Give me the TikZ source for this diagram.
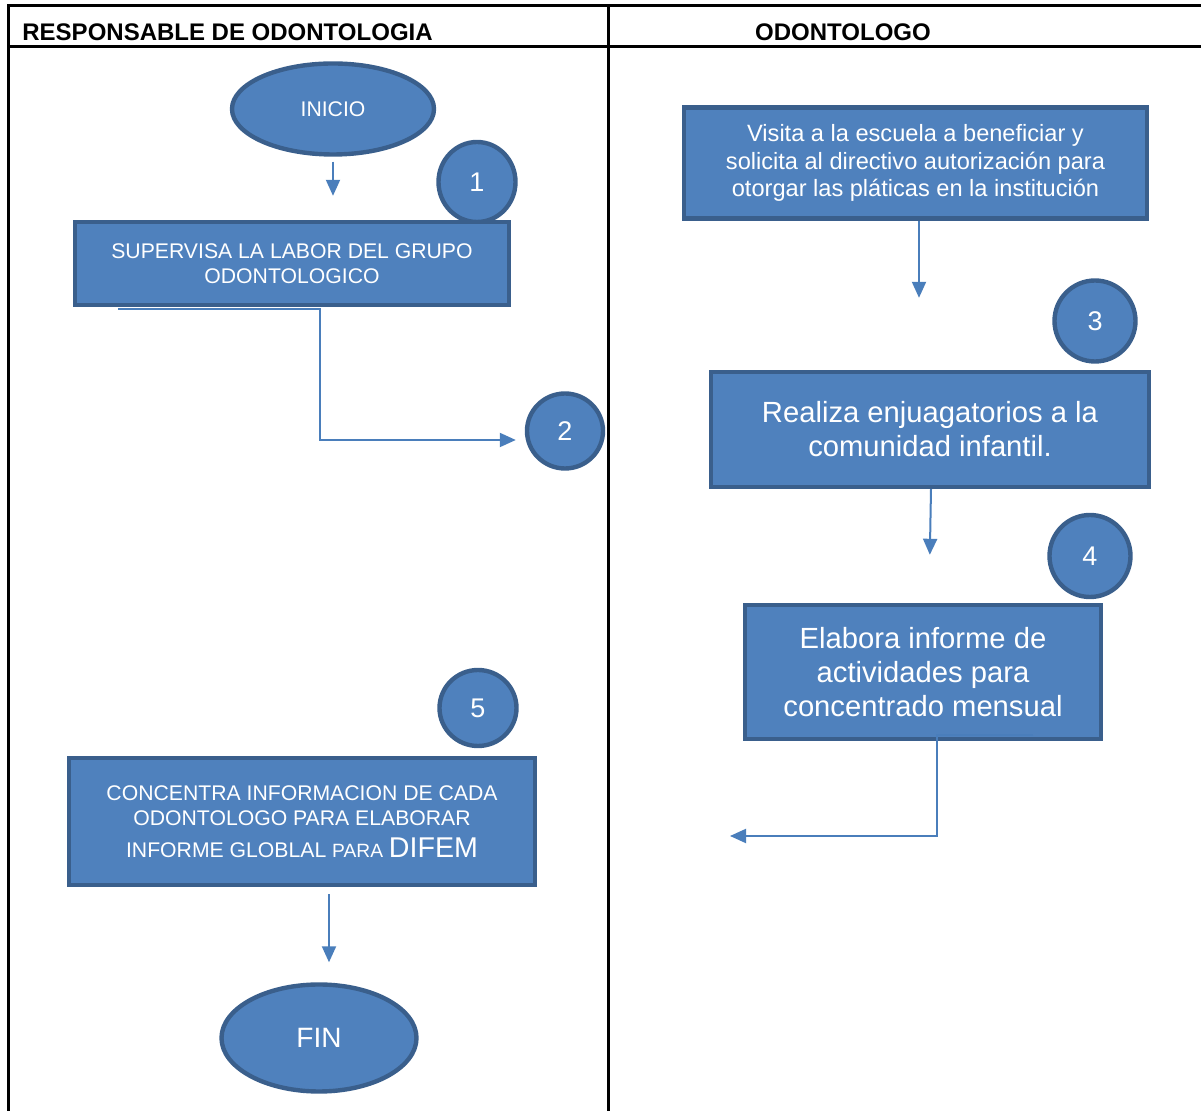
\documentclass[tikz,border=0pt]{standalone}
\usepackage{fontspec}
\setmainfont{Liberation Sans}
\usetikzlibrary{calc,positioning,arrows.meta,shapes.geometric}
\definecolor{boxfill}{HTML}{4F81BD}
\definecolor{boxline}{HTML}{3A5F8C}
\definecolor{flowblue}{HTML}{4A7EBB}
\tikzset{
    stepbox/.style={
      rectangle, draw=boxline, fill=boxfill, line width=2.2pt,
      text=white, align=center, inner sep=0pt,
    },
    endnode/.style={
      ellipse, draw=boxline, fill=boxfill, line width=2.2pt,
      text=white, inner sep=0pt,
    },
    numnode/.style={
      endnode, font=\fontsize{13.5}{15}\selectfont,
    },
    flowarrow/.style={
      draw=flowblue, line width=1pt, -{Triangle[length=8pt,width=7pt]},
    },
    tableline/.style={line width=1.5pt, line cap=rect},
  }
\newcommand*{\txtsize}[2]{\fontsize{#1}{#2}\selectfont}

\begin{document}
\begin{tikzpicture}[x=0.5pt,y=-0.5pt]
      \useasboundingbox (0,0) rectangle (1201,1111);

      % table lines
      \draw[tableline] (8,6) -- (1201,6);
      \draw[tableline] (8,47) -- (1201,47);
      \draw[tableline] (8,6) -- (8,1111);
      \draw[tableline] (608,6) -- (608,1111);

      % header
      \node[anchor=base west,inner sep=0pt,font=\bfseries\txtsize{12}{14}] (hdrresp) at (22,41) {RESPONSABLE DE ODONTOLOGIA};
      \node[anchor=base,inner sep=0pt,font=\bfseries\txtsize{12}{14}] (hdrodon) at (843,41) {ODONTOLOGO};

      % left lane
      \node[endnode,minimum width=101pt,minimum height=45.5pt,font=\txtsize{10.6}{12}] (inicio) at (333,109) {INICIO};
      \node[numnode,minimum width=38.5pt,minimum height=40pt] (num1) at (477,182) {1};
      \node[stepbox,minimum width=217pt,minimum height=41.5pt,font=\txtsize{10.6}{12.5}] (supervisa) at (292,263.5)
         {SUPERVISA LA LABOR DEL GRUPO\\ODONTOLOGICO};
      \node[numnode,minimum width=38pt,minimum height=37.5pt] (num2) at (565,431) {2};
      \node[numnode,minimum width=38.5pt,minimum height=38pt] (num5) at (478,708) {5};
      \node[stepbox,minimum width=233pt,minimum height=63.5pt,font=\txtsize{10.6}{12.5}] (concentra) at (302,821.5)
         {CONCENTRA INFORMACION DE CADA\\ODONTOLOGO PARA ELABORAR\\[3.5pt]
          INFORME GLOBLAL {\txtsize{9.6}{12}PARA} {\txtsize{14.3}{15}DIFEM}};
      \node[endnode,minimum width=97.5pt,minimum height=53.5pt,font=\txtsize{14}{16}] (fin) at (319,1038) {FIN};

      % right lane
      \node[stepbox,minimum width=231.5pt,minimum height=55.5pt,font=\txtsize{11.8}{13.8}] (visita) at (915.5,163)
         {Visita a la escuela a beneficiar y\\solicita al directivo autorización para\\otorgar las pláticas en la institución};
      \node[numnode,minimum width=40.5pt,minimum height=40.5pt] (num3) at (1095,321) {3};
      \node[stepbox,minimum width=219pt,minimum height=57.5pt,font=\txtsize{14.6}{17}] (realiza) at (930,429.5)
         {Realiza enjuagatorios a la\\comunidad infantil.};
      \node[numnode,minimum width=40.5pt,minimum height=41pt] (num4) at (1090,556) {4};
      \node[stepbox,minimum width=178pt,minimum height=67pt,font=\txtsize{14.6}{17}] (elabora) at (923,672)
         {Elabora informe de\\actividades para\\concentrado mensual};
      \coordinate (retorno) at (730,836);

      % connectors
      \draw[flowarrow,shorten <=2.5pt,shorten >=12pt] (inicio.south) -- (inicio.south |- supervisa.north);
      \draw[flowarrow] ([shift={(45,2)}]supervisa.south west) -- ([shift={(28,2)}]supervisa.south)
         |- ([shift={(-9,9)}]num2.west);
      \draw[flowarrow,shorten >=36pt] ([shift={(3.5,0)}]visita.south) -- ([shift={(3.5,0)}]visita.south |- realiza.north);
      \draw[flowarrow,shorten >=24pt] ([shift={(1,0)}]realiza.south) -- ([shift={(6,0)}]elabora.north);
      \draw[flowarrow] ([shift={(110,-6)}]elabora.south) -- ([shift={(14,-6)}]elabora.south) |- (retorno);
      \draw[flowarrow,shorten <=3.5pt,shorten >=10pt] ([shift={(27,0)}]concentra.south) -- ([shift={(27,0)}]concentra.south |- fin.north);
    \end{tikzpicture}
\end{document}
